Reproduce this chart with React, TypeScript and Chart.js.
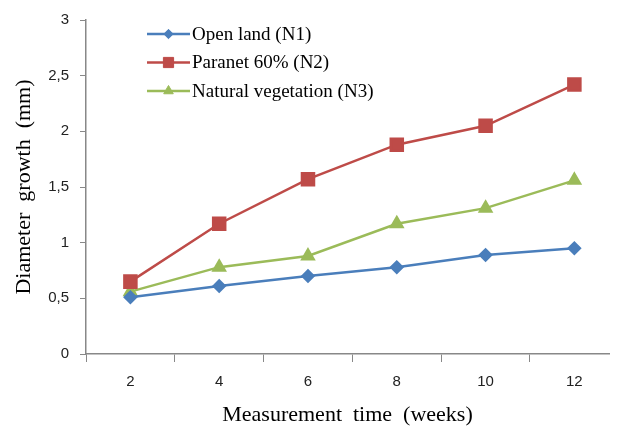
import React, { useEffect, useRef } from "react";
import { Chart, registerables } from "chart.js";

Chart.register(...registerables);

const weeks = [2, 4, 6, 8, 10, 12];
const openLand = [0.51, 0.61, 0.70, 0.78, 0.89, 0.95];
const paranet = [0.65, 1.17, 1.57, 1.88, 2.05, 2.42];
const naturalVeg = [0.56, 0.78, 0.88, 1.17, 1.31, 1.56];
const seriesNames = ["Open land (N1)", "Paranet 60% (N2)", "Natural vegetation (N3)"];
const xMin = 1;
const xMaxVisible = 12.78;

function marker(ctx: CanvasRenderingContext2D, style: string, r: number, x: number, y: number) {
  ctx.beginPath();
  if (style === "rect") {
    const s = r / Math.SQRT2;
    ctx.rect(x - s, y - s, 2 * s, 2 * s);
  } else if (style === "rectRot") {
    ctx.moveTo(x, y - r);
    ctx.lineTo(x + r, y);
    ctx.lineTo(x, y + r);
    ctx.lineTo(x - r, y);
    ctx.closePath();
  } else {
    const h = r * Math.sqrt(3) / 2;
    ctx.moveTo(x, y - r);
    ctx.lineTo(x + h, y + r / 2);
    ctx.lineTo(x - h, y + r / 2);
    ctx.closePath();
  }
  ctx.fill();
  ctx.stroke();
}

const legendPlugin = {
  id: "insideLegend",
  afterDraw(chart: any) {
    const ctx = chart.ctx;
    const x0 = 147, x1 = 190, y0 = 34, dy = 28.5;
    chart.data.datasets.forEach((ds: any, i: number) => {
      const y = y0 + i * dy;
      ctx.save();
      ctx.strokeStyle = ds.borderColor;
      ctx.lineWidth = ds.borderWidth;
      ctx.beginPath();
      ctx.moveTo(x0, y);
      ctx.lineTo(x1, y);
      ctx.stroke();
      ctx.fillStyle = ds.pointBackgroundColor;
      ctx.strokeStyle = ds.pointBorderColor;
      ctx.lineWidth = 1;
      marker(ctx, ds.pointStyle, ds.pointRadius * 0.85, (x0 + x1) / 2, y);
      ctx.restore();
      ctx.save();
      ctx.fillStyle = "#000";
      ctx.font = "19px 'Liberation Serif'";
      ctx.textBaseline = "middle";
      ctx.fillText(ds.label, x1 + 2, y + 1);
      ctx.restore();
    });
  },
};

const toPoints = (vals: number[]) => weeks.map((w, i) => ({ x: w, y: vals[i] }));
const isOdd = (v: number) => Number.isInteger(v) && Math.abs(v % 2) === 1;
const isEven = (v: number) => Number.isInteger(v) && v % 2 === 0;

export default function App() {
  const ref = useRef<HTMLCanvasElement>(null);
  useEffect(() => {
    document.body.style.margin = "0";
    const blue = "#4A7EBB";
    const red = "#BE4B48";
    const green = "#9BBB59";
    const chart = new Chart(ref.current!, {
      type: "line",
      data: {
        datasets: [
          {
            label: seriesNames[0],
            data: toPoints(openLand),
            borderColor: blue,
            backgroundColor: blue,
            pointBackgroundColor: blue,
            pointBorderColor: blue,
            pointStyle: "rectRot",
            pointRadius: 5.5,
            borderWidth: 2.5,
          },
          {
            label: seriesNames[1],
            data: toPoints(paranet),
            borderColor: red,
            backgroundColor: red,
            pointBackgroundColor: red,
            pointBorderColor: red,
            pointStyle: "rect",
            pointRadius: 8.5,
            borderWidth: 2.5,
          },
          {
            label: seriesNames[2],
            data: toPoints(naturalVeg),
            borderColor: green,
            backgroundColor: green,
            pointBackgroundColor: green,
            pointBorderColor: green,
            pointStyle: "triangle",
            pointRadius: 6.5,
            borderWidth: 2.5,
          },
        ] as any,
      },
      options: {
        animation: false,
        responsive: false,
        maintainAspectRatio: false,
        layout: { padding: { top: 13, right: 0, left: 0, bottom: 0 } },
        plugins: { legend: { display: false }, tooltip: { enabled: false } },
        scales: {
          x: {
            type: "linear",
            min: xMin,
            max: xMaxVisible,
            grid: {
              drawOnChartArea: false,
              tickLength: 8,
              color: (c: any) => (c.tick && isOdd(c.tick.value) ? "#888" : "rgba(0,0,0,0)"),
            },
            border: { color: "#888", width: 1.5 },
            ticks: {
              stepSize: 1,
              autoSkip: false,
              maxRotation: 0,
              font: { family: "'Liberation Sans'", size: 15 },
              color: "#222",
              padding: 11,
              callback: (v: any) => (isEven(Number(v)) ? String(v) : ""),
            },
            title: {
              display: true,
              text: "Measurement  time  (weeks)",
              font: { family: "'Liberation Serif'", size: 22 },
              color: "#000",
              padding: { top: 4, bottom: 1 },
            },
            afterBuildTicks(scale: any) {
              scale.ticks = weeks.flatMap((w) => [w - 1, w]).map((v) => ({ value: v }));
            },
            afterFit(scale: any) {
              scale.height = 75;
              scale.paddingLeft = 0;
              scale.paddingRight = 0;
            },
          },
          y: {
            min: 0,
            max: 3,
            grid: {
              drawOnChartArea: false,
              tickLength: 6,
              color: "#888",
            },
            border: { color: "#888", width: 1.5 },
            ticks: {
              stepSize: 0.5,
              font: { family: "'Liberation Sans'", size: 15 },
              color: "#222",
              padding: 11,
              callback: (v: any) => String(v).replace(".", ","),
            },
            title: {
              display: true,
              text: "Diameter  growth  (mm)",
              font: { family: "'Liberation Serif'", size: 22 },
              color: "#000",
              padding: { top: 11, bottom: 4 },
            },
            afterFit(scale: any) {
              scale.width = 86;
            },
          },
        },
      },
      plugins: [legendPlugin],
    });
    return () => chart.destroy();
  }, []);
  return (
    <div style={{ width: 620, height: 429, position: "relative" }}>
      <canvas ref={ref} width={620} height={429} style={{ width: 620, height: 429, display: "block" }} />
    </div>
  );
}
